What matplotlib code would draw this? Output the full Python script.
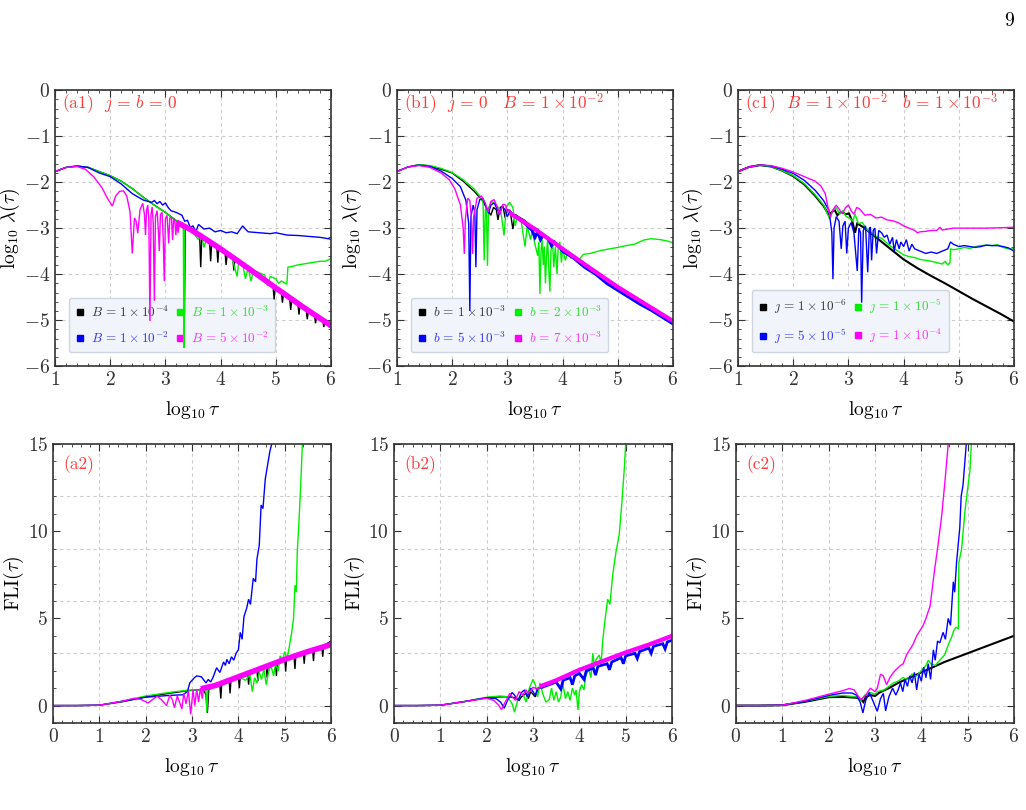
import matplotlib
matplotlib.use('Agg')
import matplotlib.pyplot as plt
from matplotlib.lines import Line2D
from matplotlib.ticker import MultipleLocator

plt.rcParams['mathtext.fontset'] = 'cm'
plt.rcParams['font.family'] = 'serif'
plt.rcParams['font.serif'] = ['cmr10', 'DejaVu Serif']
plt.rcParams['axes.formatter.use_mathtext'] = True
plt.rcParams['axes.unicode_minus'] = True

BLACK, GREEN, BLUE, MAGENTA = '#000000', '#00ee00', '#0000ff', '#ff00ff'
RED = '#ff3b3b'

# ---------------- panel (a1): log10 lambda, j = b = 0 ----------------
a1_black = [(1.0,-1.77),(1.2,-1.68),(1.4,-1.65),(1.6,-1.68),(1.8,-1.77),(2.0,-1.86),(2.2,-1.98),
            (2.4,-2.14),(2.6,-2.33),(2.8,-2.5),(3.0,-2.66),(3.2,-2.84),(3.3,-2.92),(3.33,-2.95),
            (3.345,-4.9),(3.36,-2.98),(3.5,-3.06),(3.62,-3.15),(3.64,-3.85),(3.66,-3.17),(3.8,-3.28),
            (3.82,-3.72),(3.84,-3.3),(3.93,-3.38),(3.95,-3.75),(3.97,-3.41),(4.08,-3.52),(4.1,-3.8),
            (4.12,-3.55),(4.22,-3.63),(4.24,-3.92),(4.26,-3.67),(4.4,-3.78),(4.6,-3.95),(4.8,-4.12),
            (4.95,-4.26),(4.97,-4.55),(4.99,-4.29),(5.1,-4.38),(5.12,-4.62),(5.14,-4.42),(5.25,-4.51),
            (5.27,-4.78),(5.29,-4.54),(5.4,-4.63),(5.42,-4.88),(5.44,-4.66),(5.55,-4.76),(5.57,-4.98),
            (5.59,-4.8),(5.7,-4.88),(5.72,-5.07),(5.74,-4.9),(5.85,-5.0),(5.87,-5.15),(5.89,-5.02),(6.0,-5.06)]
a1_green = [(1.0,-1.77),(1.2,-1.68),(1.4,-1.65),(1.6,-1.68),(1.8,-1.77),(2.0,-1.86),(2.2,-1.98),
            (2.4,-2.14),(2.6,-2.33),(2.8,-2.5),(3.0,-2.66),(3.2,-2.84),(3.3,-2.92),(3.325,-2.95),
            (3.335,-5.6),(3.35,-2.98),(3.5,-3.1),(3.6,-3.25),(3.65,-3.12),(3.7,-3.42),(3.75,-3.2),
            (3.9,-3.36),(4.0,-3.5),(4.1,-3.56),(4.2,-3.62),(4.3,-4.05),(4.33,-3.72),(4.4,-3.78),
            (4.45,-4.1),(4.5,-3.86),(4.55,-4.15),(4.6,-3.92),(4.7,-3.97),(4.8,-4.02),(4.85,-4.25),
            (4.9,-4.05),(5.0,-4.1),(5.05,-4.2),(5.1,-4.15),(5.2,-4.22),(5.22,-3.85),(5.3,-3.83),
            (5.4,-3.8),(5.5,-3.78),(5.6,-3.76),(5.7,-3.74),(5.8,-3.72),(5.9,-3.72),(6.0,-3.66)]
a1_blue = [(1.0,-1.77),(1.2,-1.68),(1.4,-1.65),(1.6,-1.68),(1.8,-1.8),(2.0,-1.88),(2.2,-2.04),
           (2.4,-2.25),(2.6,-2.39),(2.75,-2.44),(2.8,-2.4),(2.85,-2.47),(2.9,-2.42),(2.95,-2.5),
           (3.0,-2.45),(3.05,-2.55),(3.1,-2.62),(3.2,-2.66),(3.3,-2.72),(3.35,-2.85),(3.4,-2.83),
           (3.45,-2.98),(3.5,-2.95),(3.55,-3.08),(3.6,-2.92),(3.7,-3.02),(3.8,-3.0),(3.9,-3.08),
           (4.0,-3.05),(4.1,-3.1),(4.2,-3.08),(4.3,-3.12),(4.4,-2.95),(4.45,-3.02),(4.5,-3.08),
           (4.7,-3.1),(4.9,-3.12),(5.0,-3.1),(5.2,-3.15),(5.4,-3.16),(5.6,-3.18),(5.8,-3.2),(6.0,-3.24)]
a1_magenta = [(1.0,-1.77),(1.2,-1.68),(1.4,-1.66),(1.55,-1.72),(1.7,-1.88),(1.85,-2.12),(1.95,-2.35),
              (2.04,-2.52),(2.1,-2.3),(2.17,-2.2),(2.24,-2.19),(2.3,-2.3),(2.36,-2.65),(2.4,-3.55),
              (2.44,-2.78),(2.47,-2.85),(2.5,-3.11),(2.54,-2.6),(2.59,-2.46),(2.62,-2.7),(2.64,-3.15),
              (2.66,-2.6),(2.68,-2.5),(2.7,-2.8),(2.72,-5.02),(2.74,-2.7),(2.76,-2.54),(2.78,-2.9),
              (2.8,-4.58),(2.82,-2.75),(2.85,-2.62),(2.87,-3.0),(2.89,-3.5),(2.91,-2.7),(2.94,-2.66),
              (2.96,-3.2),(2.98,-4.15),(3.0,-2.8),(3.03,-2.72),(3.06,-3.33),(3.08,-2.78),(3.11,-2.76),
              (3.13,-3.26),(3.15,-2.8),(3.17,-2.82),(3.19,-3.15),(3.21,-2.85),(3.23,-3.1),(3.25,-2.9)]
a1_magenta_band = [(3.25,-2.9),(3.5,-3.06),(4.0,-3.45),(4.5,-3.87),(5.0,-4.3),(5.5,-4.72),(6.0,-5.12)]

# ---------------- panel (b1): j = 0, B = 1e-2 ----------------
b1_black = [(1.0,-1.77),(1.2,-1.67),(1.4,-1.62),(1.6,-1.65),(1.8,-1.72),(2.0,-1.8),(2.2,-1.98),
            (2.4,-2.2),(2.55,-2.4),(2.65,-2.62),(2.7,-2.72),(2.75,-2.55),(2.8,-2.6),(2.83,-2.82),
            (2.87,-2.55),(2.92,-2.52),(2.96,-2.78),(3.0,-2.6),(3.05,-2.62),(3.1,-3.02),(3.14,-2.7),
            (3.2,-2.75),(3.3,-2.82),(3.5,-3.02),(4.0,-3.45),(4.5,-3.86),(5.0,-4.28),(5.5,-4.65),(6.0,-5.02)]
b1_green = [(1.0,-1.77),(1.2,-1.67),(1.4,-1.62),(1.6,-1.64),(1.8,-1.7),(2.0,-1.79),(2.2,-1.95),
            (2.4,-2.15),(2.5,-2.3),(2.56,-2.45),(2.58,-3.7),(2.6,-2.6),(2.62,-2.55),(2.64,-3.82),
            (2.66,-2.55),(2.72,-2.42),(2.8,-2.5),(2.88,-2.62),(2.94,-3.16),(2.98,-2.55),(3.04,-2.44),
            (3.1,-2.55),(3.14,-2.95),(3.18,-2.75),(3.25,-2.85),(3.32,-3.4),(3.36,-2.95),(3.42,-3.25),
            (3.45,-3.05),(3.5,-3.35),(3.55,-3.6),(3.57,-3.3),(3.59,-4.43),(3.61,-3.5),(3.63,-3.25),
            (3.65,-3.8),(3.67,-3.4),(3.69,-4.2),(3.71,-3.6),(3.73,-3.2),(3.75,-3.9),(3.77,-4.38),
            (3.79,-3.5),(3.82,-3.3),(3.84,-3.85),(3.87,-3.4),(3.9,-4.0),(3.92,-3.45),(3.95,-3.3),
            (3.98,-3.75),(4.0,-3.45),(4.05,-3.7),(4.1,-3.5),(4.15,-3.65),(4.2,-3.6),(4.3,-3.68),
            (4.38,-3.57),(4.5,-3.55),(4.68,-3.49),(4.85,-3.45),(5.0,-3.42),(5.15,-3.38),(5.3,-3.35),
            (5.47,-3.26),(5.6,-3.23),(5.77,-3.25),(5.9,-3.28),(6.0,-3.32)]
b1_blue = [(1.0,-1.77),(1.2,-1.67),(1.4,-1.63),(1.6,-1.66),(1.8,-1.76),(2.0,-1.92),(2.15,-2.1),
           (2.25,-2.4),(2.3,-2.9),(2.32,-4.8),(2.34,-2.75),(2.38,-2.5),(2.41,-2.65),(2.43,-3.85),
           (2.45,-2.6),(2.5,-2.38),(2.56,-2.36),(2.62,-2.55),(2.66,-2.68),(2.7,-2.5),(2.76,-2.45),
           (2.82,-2.6),(2.86,-2.7),(2.9,-2.52),(2.96,-2.6),(3.0,-2.75),(3.05,-2.62),(3.1,-2.7),
           (3.2,-2.76),(3.3,-2.88)]
b1_blue_band = [(3.3,-2.88),(3.45,-3.05),(3.5,-3.2),(3.55,-3.08),(3.6,-3.25),(3.65,-3.15),(3.75,-3.25),
                (3.8,-3.38),(3.85,-3.3),(3.95,-3.42),(4.0,-3.5),(4.2,-3.65),(4.4,-3.85),(4.6,-4.0),
                (4.8,-4.2),(5.0,-4.35),(5.2,-4.5),(5.4,-4.65),(5.6,-4.78),(5.8,-4.93),(6.0,-5.08)]
b1_magenta = [(1.0,-1.77),(1.2,-1.67),(1.4,-1.64),(1.6,-1.68),(1.8,-1.8),(1.95,-1.95),(2.05,-2.15),
              (2.15,-2.5),(2.2,-3.0),(2.22,-3.56),(2.24,-2.8),(2.28,-2.35),(2.32,-2.4),(2.35,-2.8),
              (2.37,-3.56),(2.39,-2.75),(2.45,-2.35),(2.53,-2.3),(2.6,-2.45),(2.65,-2.65),(2.7,-2.42),
              (2.76,-2.38),(2.82,-2.55),(2.86,-2.7),(2.92,-2.48),(2.97,-2.5),(3.0,-2.65),(3.04,-2.6),
              (3.08,-2.7)]
b1_magenta_band = [(3.08,-2.7),(3.5,-3.02),(4.0,-3.45),(4.5,-3.87),(5.0,-4.28),(5.5,-4.65),(6.0,-5.02)]

# ---------------- panel (c1): B = 1e-2, b = 1e-3 ----------------
c1_black = [(1.0,-1.77),(1.2,-1.67),(1.4,-1.63),(1.6,-1.66),(1.8,-1.75),(2.0,-1.87),(2.2,-2.05),
            (2.4,-2.3),(2.55,-2.52),(2.65,-2.72),(2.7,-2.65),(2.75,-2.6),(2.8,-2.72),(2.85,-2.66),
            (2.9,-2.65),(2.95,-2.7),(3.01,-2.68),(3.07,-2.85),(3.12,-3.1),(3.16,-2.9),(3.27,-2.98),
            (3.5,-3.2),(3.75,-3.44),(4.0,-3.68),(4.25,-3.87),(4.5,-4.04),(4.75,-4.2),(5.0,-4.37),
            (5.25,-4.54),(5.5,-4.7),(5.75,-4.86),(6.0,-5.03)]
c1_green = [(1.0,-1.77),(1.2,-1.67),(1.4,-1.63),(1.6,-1.66),(1.8,-1.75),(2.0,-1.86),(2.2,-2.03),
            (2.4,-2.28),(2.55,-2.5),(2.66,-2.8),(2.72,-2.62),(2.78,-2.55),(2.84,-2.7),(2.9,-2.62),
            (2.96,-2.75),(3.02,-2.78),(3.08,-2.85),(3.12,-2.7),(3.18,-2.9),(3.25,-2.88),(3.35,-3.05),
            (3.5,-3.18),(3.6,-3.22),(3.75,-3.38),(3.9,-3.5),(4.0,-3.58),(4.1,-3.62),(4.2,-3.64),
            (4.3,-3.68),(4.4,-3.7),(4.5,-3.72),(4.6,-3.75),(4.7,-3.78),(4.75,-3.72),(4.8,-3.8),
            (4.84,-3.75),(4.85,-3.45),(4.9,-3.47),(5.0,-3.45),(5.1,-3.42),(5.2,-3.44),(5.3,-3.4),
            (5.4,-3.38),(5.5,-3.37),(5.6,-3.38),(5.7,-3.36),(5.8,-3.42),(5.9,-3.45),(6.0,-3.45)]
c1_blue = [(1.0,-1.77),(1.2,-1.67),(1.4,-1.63),(1.6,-1.65),(1.8,-1.72),(2.0,-1.81),(2.2,-1.96),
           (2.4,-2.18),(2.55,-2.4),(2.65,-2.62),(2.7,-3.1),(2.72,-4.11),(2.74,-3.0),(2.78,-2.75),
           (2.83,-2.85),(2.87,-3.45),(2.9,-2.95),(2.94,-2.85),(2.97,-3.55),(3.0,-3.0),(3.05,-2.88),
           (3.1,-3.1),(3.16,-3.93),(3.19,-3.0),(3.22,-3.1),(3.24,-4.62),(3.27,-3.05),(3.31,-2.95),
           (3.35,-3.96),(3.38,-3.0),(3.4,-2.98),(3.42,-3.7),(3.45,-3.05),(3.48,-3.0),(3.51,-3.55),
           (3.55,-3.05),(3.6,-3.1),(3.65,-3.2),(3.7,-3.15),(3.75,-3.35),(3.8,-3.2),(3.83,-3.5),
           (3.87,-3.25),(3.92,-3.45),(3.95,-3.3),(4.0,-3.4),(4.05,-3.25),(4.1,-3.5),(4.15,-3.35),
           (4.2,-3.45),(4.3,-3.5),(4.4,-3.55),(4.5,-3.52),(4.6,-3.55),(4.7,-3.5),(4.8,-3.45),
           (4.85,-3.3),(4.9,-3.35),(5.0,-3.4),(5.1,-3.38),(5.2,-3.4),(5.3,-3.42),(5.4,-3.4),
           (5.5,-3.37),(5.6,-3.38),(5.7,-3.38),(5.8,-3.4),(5.9,-3.43),(6.0,-3.5)]
c1_magenta = [(1.0,-1.77),(1.2,-1.67),(1.4,-1.63),(1.6,-1.64),(1.8,-1.7),(2.0,-1.78),(2.2,-1.88),
              (2.4,-1.98),(2.5,-2.08),(2.58,-2.25),(2.64,-2.6),(2.67,-2.76),(2.72,-2.6),(2.78,-2.5),
              (2.84,-2.6),(2.89,-2.69),(2.95,-2.55),(3.0,-2.5),(3.05,-2.62),(3.1,-2.7),(3.15,-2.55),
              (3.2,-2.58),(3.25,-2.65),(3.3,-2.72),(3.4,-2.7),(3.5,-2.78),(3.6,-2.76),(3.7,-2.82),
              (3.8,-2.84),(3.9,-2.88),(4.0,-2.95),(4.1,-3.0),(4.2,-3.05),(4.25,-3.1),(4.3,-3.08),
              (4.4,-3.07),(4.5,-3.05),(4.6,-3.05),(4.66,-2.98),(4.7,-3.04),(4.8,-3.02),(4.9,-3.0),
              (5.0,-3.0),(5.2,-3.0),(5.5,-3.0),(5.8,-2.99),(6.0,-2.98)]

# ---------------- panel (a2): FLI ----------------
a2_black = [(0,0),(0.5,0),(1.0,0.02),(1.5,0.22),(2.0,0.5),(2.5,0.7),(2.9,0.85),(3.1,0.9),(3.25,0.92),
            (3.3,0.6),(3.33,-0.42),(3.36,0.9),(3.5,1.15),(3.6,1.2),(3.62,0.4),(3.64,1.25),(3.8,1.45),
            (3.82,0.7),(3.84,1.48),(4.0,1.65),(4.02,1.0),(4.04,1.67),(4.2,1.85),(4.22,1.2),(4.24,1.88),
            (4.4,2.05),(4.42,1.4),(4.44,2.08),(4.6,2.25),(4.62,1.6),(4.64,2.28),(4.8,2.45),(4.82,1.7),
            (4.84,2.48),(5.0,2.7),(5.02,1.95),(5.04,2.72),(5.2,2.88),(5.22,2.1),(5.24,2.9),(5.4,3.05),
            (5.42,2.4),(5.44,3.08),(5.6,3.25),(5.62,2.55),(5.64,3.28),(5.8,3.42),(5.82,2.8),(5.84,3.45),
            (6.0,3.7)]
a2_green = [(0,0),(0.5,0),(1.0,0.02),(1.5,0.25),(2.0,0.55),(2.5,0.75),(2.9,0.88),(3.2,0.9),(3.3,0.85),
            (3.32,-0.4),(3.34,0.9),(3.45,1.05),(3.6,1.2),(3.75,1.35),(3.9,1.5),(4.05,1.6),(4.15,1.45),
            (4.25,1.75),(4.3,0.8),(4.35,1.6),(4.4,1.3),(4.45,1.9),(4.5,1.5),(4.55,2.1),(4.6,1.2),
            (4.65,1.9),(4.7,2.3),(4.76,1.7),(4.8,2.4),(4.86,2.0),(4.9,2.85),(4.95,2.6),(5.0,3.1),
            (5.05,2.7),(5.1,3.4),(5.15,4.2),(5.19,5.0),(5.22,6.9),(5.25,6.5),(5.27,8.8),(5.31,10.7),
            (5.35,13.0),(5.38,15.0),(5.4,16.0)]
a2_blue = [(0,0),(0.5,0),(1.0,0.02),(1.5,0.25),(2.0,0.48),(2.5,0.58),(2.8,0.62),(2.9,0.8),(2.95,1.3),
           (3.0,1.45),(3.05,1.6),(3.1,1.7),(3.2,1.65),(3.3,1.3),(3.35,1.5),(3.4,1.35),(3.45,1.6),
           (3.53,2.17),(3.6,1.9),(3.68,2.5),(3.72,2.3),(3.75,2.65),(3.8,2.4),(3.85,2.8),(3.9,2.6),
           (3.95,3.0),(4.0,3.2),(4.04,4.2),(4.08,3.8),(4.12,5.1),(4.18,5.6),(4.22,6.1),(4.26,5.8),
           (4.32,7.3),(4.37,7.1),(4.4,8.4),(4.45,9.2),(4.49,11.5),(4.53,11.3),(4.58,13.0),(4.68,14.6),
           (4.72,15.0),(4.75,16.0)]
a2_magenta = [(0,0),(0.5,0),(1.0,0.02),(1.5,0.25),(1.75,0.42),(1.9,0.35),(2.05,0.15),(2.15,0.35),
              (2.25,0.54),(2.35,0.3),(2.45,0.0),(2.52,0.6),(2.58,0.3),(2.62,-0.12),(2.68,0.55),
              (2.73,0.2),(2.78,-0.2),(2.82,0.7),(2.87,0.1),(2.92,0.85),(2.97,-0.5),(3.02,0.9),
              (3.06,0.0),(3.1,0.95),(3.14,0.2),(3.18,1.0),(3.22,0.4),(3.25,1.0)]
a2_magenta_band = [(3.25,1.0),(3.5,1.15),(4.0,1.65),(4.5,2.15),(5.0,2.65),(5.5,3.1),(6.0,3.5)]

# ---------------- panel (b2) ----------------
b2_black = [(0,0),(0.5,0),(1.0,0.02),(1.5,0.22),(2.0,0.45),(2.3,0.5),(2.5,0.5),(2.6,0.45),(2.7,0.3),
            (2.75,0.5),(2.85,0.7),(2.9,0.4),(2.95,0.8),(3.05,0.5),(3.1,0.9),(3.2,1.1),(3.5,1.4),
            (4.0,2.0),(4.5,2.5),(5.0,3.0),(5.5,3.45),(6.0,3.95)]
b2_green = [(0,0),(0.5,0),(1.0,0.02),(1.5,0.22),(2.0,0.48),(2.3,0.55),(2.45,0.5),(2.55,0.1),(2.6,-0.38),
            (2.67,0.3),(2.75,0.7),(2.8,0.55),(2.85,0.2),(2.92,1.0),(3.0,1.5),(3.05,1.2),(3.1,0.5),
            (3.15,1.3),(3.22,0.6),(3.28,0.2),(3.35,0.35),(3.4,1.0),(3.45,0.3),(3.5,0.8),(3.55,0.2),
            (3.6,0.5),(3.64,1.3),(3.7,0.4),(3.75,0.8),(3.8,0.3),(3.85,1.0),(3.9,0.6),(3.93,0.9),
            (3.97,-0.25),(4.0,0.8),(4.05,1.2),(4.1,0.9),(4.14,1.7),(4.2,2.1),(4.25,1.6),(4.29,3.0),
            (4.33,2.2),(4.36,2.65),(4.43,2.9),(4.47,2.4),(4.5,3.6),(4.54,4.6),(4.61,6.1),(4.66,5.8),
            (4.72,7.5),(4.79,8.8),(4.86,9.8),(4.92,11.7),(4.97,13.6),(5.0,15.0),(5.02,16.0)]
b2_blue = [(0,0),(0.5,0),(1.0,0.02),(1.5,0.22),(2.0,0.45),(2.2,0.4),(2.3,0.2),(2.38,-0.15),(2.45,0.3),
           (2.55,0.75),(2.6,0.6),(2.68,0.3),(2.75,0.75),(2.82,0.9),(2.88,0.5),(2.95,1.0),(3.0,0.8),
           (3.05,0.6),(3.1,1.0),(3.2,1.05)]
b2_blue_band = [(3.2,1.05),(3.5,1.35),(3.6,0.95),(3.65,1.45),(3.8,1.6),(3.85,1.2),(3.9,1.7),(4.0,1.85),
                (4.1,1.5),(4.15,2.0),(4.3,2.15),(4.35,1.75),(4.4,2.25),(4.6,2.4),(4.65,2.05),(4.7,2.5),
                (4.9,2.75),(4.95,2.4),(5.0,2.85),(5.2,3.0),(5.25,2.7),(5.3,3.1),(5.5,3.3),(5.55,3.0),
                (5.6,3.4),(5.8,3.55),(5.85,3.25),(5.9,3.65),(6.0,3.75)]
b2_magenta = [(0,0),(0.5,0),(1.0,0.02),(1.5,0.22),(2.0,0.42),(2.15,0.3),(2.25,0.05),(2.32,-0.23),
              (2.4,0.2),(2.5,0.7),(2.55,0.5),(2.62,0.3),(2.7,0.8),(2.78,0.6),(2.85,0.9),(2.9,0.7),
              (3.0,1.05),(3.1,0.95),(3.2,1.15)]
b2_magenta_band = [(3.2,1.15),(3.5,1.45),(4.0,2.05),(4.5,2.55),(5.0,3.05),(5.5,3.5),(6.0,4.0)]

# ---------------- panel (c2) ----------------
c2_black = [(0,0),(0.5,0),(1.0,0.02),(1.5,0.22),(2.0,0.48),(2.3,0.5),(2.6,0.45),(2.7,0.35),(2.75,0.2),
            (2.8,0.5),(2.9,0.6),(3.0,0.55),(3.1,0.75),(3.3,1.0),(3.5,1.3),(3.75,1.6),(4.0,1.9),
            (4.25,2.2),(4.5,2.5),(4.75,2.75),(5.0,3.0),(5.25,3.25),(5.5,3.5),(5.75,3.75),(6.0,4.0)]
c2_green = [(0,0),(0.5,0),(1.0,0.02),(1.5,0.25),(2.0,0.52),(2.3,0.58),(2.6,0.5),(2.7,0.3),(2.78,0.6),
            (2.9,0.75),(3.0,0.65),(3.05,0.8),(3.2,0.9),(3.3,1.1),(3.4,1.3),(3.5,1.4),(3.6,1.6),
            (3.7,1.5),(3.8,1.8),(3.9,1.7),(4.0,2.0),(4.1,2.3),(4.15,2.6),(4.2,2.4),(4.3,2.3),(4.4,2.6),
            (4.5,2.9),(4.6,3.6),(4.65,3.9),(4.7,4.3),(4.75,4.5),(4.8,4.4),(4.81,8.2),(4.87,9.0),
            (4.94,11.1),(5.01,12.65),(5.05,13.5),(5.08,15.0),(5.1,16.0)]
c2_blue = [(0,0),(0.5,0),(1.0,0.02),(1.5,0.25),(2.0,0.58),(2.3,0.72),(2.5,0.72),(2.6,0.6),(2.68,0.2),
           (2.74,-0.42),(2.8,0.3),(2.88,0.75),(2.95,0.3),(3.05,-0.33),(3.12,0.4),(3.18,0.7),(3.23,-0.3),
           (3.3,0.5),(3.38,1.0),(3.45,0.6),(3.5,0.9),(3.55,1.3),(3.6,0.8),(3.65,1.5),(3.7,1.1),
           (3.75,1.7),(3.8,1.3),(3.85,1.9),(3.9,0.9),(3.95,1.8),(4.0,1.4),(4.05,2.2),(4.1,1.6),
           (4.15,2.4),(4.2,1.5),(4.26,3.2),(4.3,2.6),(4.35,3.7),(4.4,3.6),(4.47,4.2),(4.52,3.8),
           (4.58,5.0),(4.63,4.6),(4.69,7.1),(4.72,6.5),(4.76,8.2),(4.83,10.2),(4.86,12.0),(4.9,12.65),
           (4.97,15.0),(5.0,16.0)]
c2_magenta = [(0,0),(0.5,0),(1.0,0.02),(1.5,0.3),(2.0,0.65),(2.3,0.85),(2.45,0.98),(2.55,0.9),(2.65,0.5),
              (2.7,0.35),(2.8,0.6),(2.9,1.0),(3.0,0.8),(3.05,1.0),(3.12,1.8),(3.18,1.7),(3.25,1.2),
              (3.32,1.6),(3.4,1.9),(3.47,2.1),(3.55,2.3),(3.61,2.4),(3.68,2.9),(3.75,3.2),(3.82,3.5),
              (3.9,4.0),(3.97,4.3),(4.04,4.6),(4.1,5.0),(4.15,5.4),(4.19,5.7),(4.24,6.8),(4.29,7.85),
              (4.36,9.2),(4.44,10.9),(4.51,12.85),(4.58,15.0),(4.6,16.0)]

# labels
a1_legend = [r'$B\,=\,1\times10^{-4}$', r'$B\,=\,1\times10^{-2}$', r'$B\,=\,1\times10^{-3}$', r'$B\,=\,5\times10^{-2}$']
b1_legend = [r'$b\,=\,1\times10^{-3}$', r'$b\,=\,5\times10^{-3}$', r'$b\,=\,2\times10^{-3}$', r'$b\,=\,7\times10^{-3}$']
c1_legend = [r'$\jmath\,=\,1\times10^{-6}$', r'$\jmath\,=\,5\times10^{-5}$', r'$\jmath\,=\,1\times10^{-5}$', r'$\jmath\,=\,1\times10^{-4}$']
titles_top = [r'(a1)  $\jmath\,=\,b\,=\,0$', r'(b1)  $\jmath\,=\,0\quad B\,=\,1\times10^{-2}$',
              r'(c1)  $B\,=\,1\times10^{-2}\quad b\,=\,1\times10^{-3}$']
titles_bottom = ['(a2)', '(b2)', '(c2)']


def draw(ax, pts, color, lw=1.0):
    xs, ys = zip(*pts)
    ax.plot(xs, ys, color=color, lw=lw, solid_joinstyle='miter')


def style(ax, top):
    for s in ax.spines.values():
        s.set_color('#333333')
        s.set_linewidth(1.2)
    ax.tick_params(which='both', direction='in', top=True, right=True, labelsize=14, colors='#333333')
    ax.tick_params(which='major', length=5)
    ax.tick_params(which='minor', length=2.5)
    gkw = dict(color='#cccccc', lw=0.8, ls=(0, (3, 3)), zorder=0)
    if top:
        ax.set_xlim(1, 6)
        ax.set_ylim(-6, 0)
        ax.xaxis.set_major_locator(MultipleLocator(1))
        ax.yaxis.set_major_locator(MultipleLocator(1))
        ax.xaxis.set_minor_locator(MultipleLocator(0.2))
        ax.yaxis.set_minor_locator(MultipleLocator(0.2))
        ax.grid(True, which='major', **gkw)
        ax.set_ylabel(r'$\log_{10}\,\lambda(\tau)$', fontsize=14, labelpad=1)
    else:
        ax.set_xlim(0, 6)
        ax.set_ylim(-1, 15)
        ax.xaxis.set_major_locator(MultipleLocator(1))
        ax.yaxis.set_major_locator(MultipleLocator(5))
        ax.xaxis.set_minor_locator(MultipleLocator(0.2))
        ax.yaxis.set_minor_locator(MultipleLocator(1))
        for gx in range(1, 6):
            ax.axvline(gx, **gkw)
        for gy in (0, 3, 6, 9, 12):
            ax.axhline(gy, **gkw)
        ax.set_ylabel(r'$\mathrm{FLI}(\tau)$', fontsize=14, labelpad=1)
    ax.set_xlabel(r'$\log_{10}\tau$', fontsize=14, labelpad=7)


def legend(ax, labels):
    cols = [BLACK, BLUE, GREEN, MAGENTA]
    handles = [Line2D([], [], ls='none', marker='s', ms=5, color=c) for c in cols]
    leg = ax.legend(handles, labels, ncol=2, loc='lower left', bbox_to_anchor=(0.05, 0.05),
                    borderaxespad=0, fontsize=9.5, handlelength=0.7, handletextpad=0.5,
                    columnspacing=0.5, labelspacing=0.8, borderpad=0.5, fancybox=True, framealpha=1,
                    facecolor='#f1f5fb', edgecolor='#cfd6df')
    leg.set_zorder(1.5)  # curves pass over the legend box, as in the original
    for t, c in zip(leg.get_texts(), ['#333333', '#3333ff', '#33dd33', '#ff33ff']):
        t.set_color(c)


fig = plt.figure(figsize=(10.26, 8.10), dpi=100)
top_lefts = [0.0536, 0.3869, 0.7193]
bot_lefts = [0.0517, 0.384, 0.7173]
axes_top = [fig.add_axes([l, 0.548, 0.269, 0.3407]) for l in top_lefts]
axes_bot = [fig.add_axes([l, 0.1074, 0.271, 0.3444]) for l in bot_lefts]

# (a1)
ax = axes_top[0]
draw(ax, a1_black, BLACK)
draw(ax, a1_green, GREEN)
draw(ax, a1_blue, BLUE)
draw(ax, a1_magenta, MAGENTA)
draw(ax, a1_magenta_band, MAGENTA, lw=4)
legend(ax, a1_legend)

# (b1)
ax = axes_top[1]
draw(ax, b1_black, BLACK)
draw(ax, b1_green, GREEN)
draw(ax, b1_blue, BLUE)
draw(ax, b1_blue_band, BLUE, lw=2.2)
draw(ax, b1_magenta, MAGENTA)
draw(ax, b1_magenta_band, MAGENTA, lw=3)
legend(ax, b1_legend)

# (c1)
ax = axes_top[2]
draw(ax, c1_black, BLACK, lw=1.5)
draw(ax, c1_green, GREEN)
draw(ax, c1_blue, BLUE)
draw(ax, c1_magenta, MAGENTA)
legend(ax, c1_legend)

# (a2)
ax = axes_bot[0]
draw(ax, a2_black, BLACK)
draw(ax, a2_green, GREEN)
draw(ax, a2_blue, BLUE)
draw(ax, a2_magenta, MAGENTA)
draw(ax, a2_magenta_band, MAGENTA, lw=4)

# (b2)
ax = axes_bot[1]
draw(ax, b2_black, BLACK)
draw(ax, b2_green, GREEN)
draw(ax, b2_blue, BLUE)
draw(ax, b2_blue_band, BLUE, lw=2)
draw(ax, b2_magenta, MAGENTA)
draw(ax, b2_magenta_band, MAGENTA, lw=3)

# (c2)
ax = axes_bot[2]
draw(ax, c2_black, BLACK, lw=1.5)
draw(ax, c2_green, GREEN)
draw(ax, c2_blue, BLUE)
draw(ax, c2_magenta, MAGENTA)

for ax, t in zip(axes_top, titles_top):
    style(ax, True)
    ax.text(0.025, 0.95, t, transform=ax.transAxes, color=RED, fontsize=12.5, va='center')
for ax, t in zip(axes_bot, titles_bottom):
    style(ax, False)
    ax.text(0.036, 0.925, t, transform=ax.transAxes, color=RED, fontsize=12.5, va='center')

fig.text(0.988, 0.985, '9', ha='right', va='top', fontsize=14)

fig.savefig('out.png', dpi=100)
